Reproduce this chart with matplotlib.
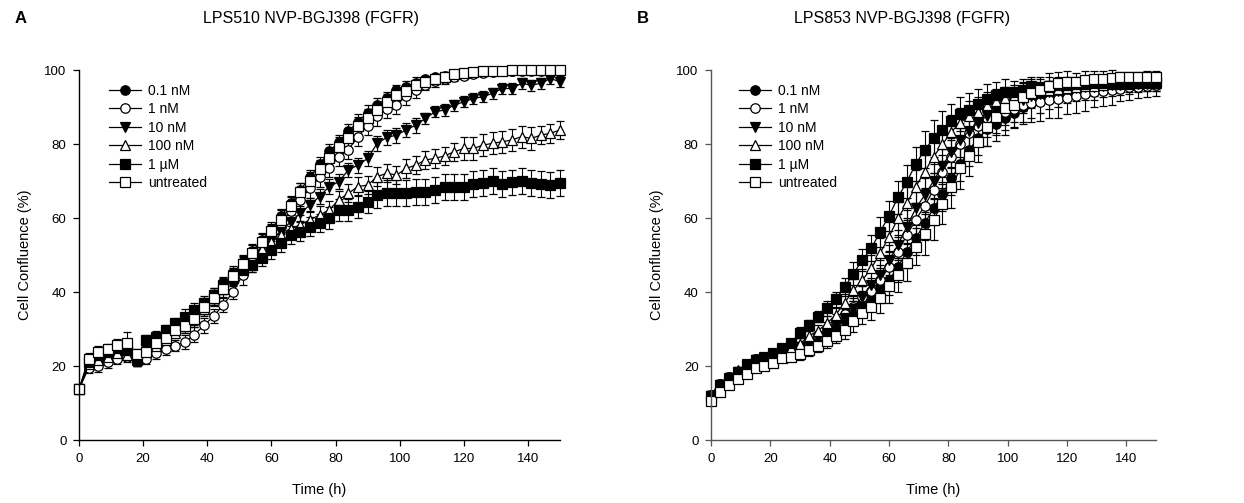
import numpy as np
import matplotlib
matplotlib.use("Agg")
import matplotlib.pyplot as plt

plt.rcParams["font.family"] = ["Liberation Sans", "DejaVu Sans"]

hours = [0, 3, 6, 9, 12, 15, 18, 21, 24, 27, 30, 33, 36, 39, 42, 45, 48, 51, 54, 57,
         60, 63, 66, 69, 72, 75, 78, 81, 84, 87, 90, 93, 96, 99, 102, 105, 108, 111,
         114, 117, 120, 123, 126, 129, 132, 135, 138, 141, 144, 147, 150]

labels = ["0.1 nM", "1 nM", "10 nM", "100 nM", "1 µM", "untreated"]

# panel A - LPS510
a_01 = [13.7, 20.5, 21.5, 22.5, 23.5, 23.5, 21.5, 25, 26.5, 28.5, 30.5, 32, 34, 36.5, 39, 42, 45, 48, 51, 54,
        57, 60.5, 64, 67.5, 71, 74.5, 78, 80.5, 83.5, 86, 88.5, 90.5, 92.5, 94.5, 95.5, 96.5, 97.5, 98,
        98.5, 99, 99.2, 99.5, 99.6, 99.7, 99.8, 99.8, 99.9, 99.9, 99.9, 100, 100]
a_1 = [13.7, 19.5, 20, 21, 22, 22.5, 21.5, 22, 23.5, 24.5, 25.5, 26.5, 28.5, 31, 33.5, 36.5, 40, 44.5, 48, 52,
       55.5, 58.5, 62, 65, 68, 71, 73.5, 76.5, 78.5, 82, 85, 87.5, 89.5, 90.5, 93, 94.5, 96, 97,
       97.5, 98, 98.5, 99, 99.3, 99.5, 99.6, 99.7, 99.8, 99.8, 99.8, 99.9, 99.9]
a_10 = [13.7, 20.5, 21.5, 22.5, 23.5, 23, 21.5, 24.5, 26, 27.5, 29.5, 31.5, 33.5, 36, 38.5, 41.5, 44.5, 47.5, 50, 52,
        54, 56.3, 59, 61.3, 63.5, 65.8, 68.5, 69.8, 73, 74.3, 76.1, 80.2, 81.8, 82.4, 83.8, 85.1, 86.9, 88.7,
        89.2, 90.5, 91.4, 92.3, 92.8, 93.7, 95, 95, 96.4, 95.9, 96.4, 97.7, 96.8]
a_100 = [13.7, 20.5, 21.5, 22.5, 23.5, 23, 21.5, 24, 25.5, 27, 29, 31, 33, 35.5, 38.5, 41.5, 44.5, 47, 49.5, 51.5,
         53.5, 55.5, 57, 58.2, 59.5, 60.8, 62.2, 64.9, 66.7, 68.5, 68.9, 71.2, 72.1, 71.6, 73.4, 74.3, 75.7, 76.1,
         76.8, 77.9, 78.8, 78.8, 79.7, 80.2, 80.6, 81.1, 82, 81.5, 82.4, 82.9, 83.8]
a_1u = [13.7, 21.2, 23, 23.9, 24.8, 24.3, 22, 27, 27.9, 29.7, 31.5, 33.3, 35.1, 36.9, 39.2, 41.9, 43.7, 45.9, 47.3, 49.1,
        51.4, 53.3, 55.4, 56.3, 57.7, 58.6, 59.9, 62.2, 62.2, 63.1, 64.4, 66.2, 66.7, 66.7, 66.7, 67.1, 67.1, 67.6,
        68.5, 68.5, 68.5, 69.1, 69.4, 70.1, 69.2, 69.6, 70.1, 69.4, 69.1, 68.9, 69.5]
a_unt = [13.7, 22, 23.9, 24.5, 25.7, 26.3, 23.2, 23.9, 26.3, 27.5, 29.7, 30.8, 32.6, 36, 38.3, 40.7, 44.3, 47.7, 50.6, 53.6,
         56.5, 59.6, 63.2, 66.9, 70, 73.2, 76.1, 79.3, 81.5, 84.9, 86.9, 89.2, 91.4, 93.2, 94.3, 95.9, 96.7, 97.5,
         98.2, 98.8, 99.1, 99.5, 99.7, 99.8, 99.8, 99.9, 99.9, 99.9, 100, 100, 100]

a_01_sd = [0.5, 1.5, 1.5, 1.5, 1.5, 1.5, 1.5, 1.5, 1.5, 1.5, 1.5, 2, 2, 2, 2, 2, 2, 2, 2, 2,
           2, 2, 2, 2, 2, 2, 2, 2, 2, 2, 2, 2, 1.5, 1.5, 1.5, 1.5, 1, 1, 1, 1, 0.8, 0.8,
           0.5, 0.5, 0.5, 0.5, 0.5, 0.5, 0.5, 0.5, 0.5]
a_1_sd = [0.5, 1.5, 1.5, 1.5, 1.5, 1.5, 1.5, 1.5, 1.5, 1.5, 1.5, 2, 2, 2, 2, 2, 2, 2.5, 2.5, 2.5,
          2.5, 2.5, 2.5, 2.5, 2.5, 2.5, 2.5, 2.5, 2.5, 2.5, 2.5, 2.5, 2.5, 2.5, 2.5, 2, 1.5, 1.5, 1.2, 1,
          1, 0.8, 0.8, 0.5, 0.5, 0.5, 0.5, 0.5, 0.5, 0.5, 0.5]
a_10_sd = [0.5, 1.5, 1.5, 1.5, 1.5, 1.5, 1.5, 1.5, 1.5, 1.5, 1.5, 2, 2, 2, 2, 2, 2, 2, 2, 2,
           2, 2, 2, 2, 2, 2, 2, 2, 2, 2, 2, 2, 2, 2, 2, 2, 1.5, 1.5, 1.5, 1.5, 1.5,
           1.5, 1.5, 1.5, 1.5, 1.5, 1.5, 1.5, 1.5, 1.5, 1.5]
a_100_sd = [0.5, 1.5, 1.5, 1.5, 1.5, 1.5, 1.5, 1.5, 1.5, 1.5, 1.5, 2, 2, 2, 2, 2, 2, 2, 2, 2,
            2.5, 2.5, 2.5, 2.5, 2.5, 2.5, 2.5, 2.5, 2.5, 2.5, 2.5, 2.5, 2.5, 2.5, 2.5, 2.5, 2.5, 2.5,
            2.5, 2.5, 3, 3, 3, 3, 3, 3, 3, 3, 2.5, 2.5, 2.5]
a_1u_sd = [0.5, 1.5, 1.5, 1.5, 1.5, 1.5, 1.5, 1.5, 1.5, 1.5, 1.5, 2, 2, 2, 2, 2, 2, 2, 2, 2,
           2.5, 2.5, 2.5, 2.5, 2.5, 2.5, 3, 3, 3, 3, 3, 3.5, 3.5, 3.5, 3.5, 3.5, 3.5, 3.5,
           3.5, 3.5, 3.5, 3.5, 3.5, 3.5, 3.5, 3.5, 3.5, 3.5, 3.5, 3.5, 3.5]
a_unt_sd = [0.5, 1.5, 1.5, 1.5, 1.5, 3, 1.5, 1.5, 1.5, 1.5, 1.5, 2, 2, 2, 2, 2, 2, 2, 2, 2,
            2, 2.5, 2.5, 2.5, 2.5, 2.5, 2.5, 2.5, 2.5, 2.5, 2.5, 2, 2, 2, 1.5, 1.5, 1.5, 1, 1, 1,
            0.8, 0.8, 0.5, 0.5, 0.5, 0.5, 0.5, 0.5, 0.5, 0.5, 0.5]

# panel B - LPS853
b_01 = [12.3, 15.2, 17, 18.5, 20.5, 22, 22.5, 23, 24, 24.5, 25, 26, 27.5, 28.8, 30.2, 32.5, 34.7, 36.5, 38.3, 41,
        43.2, 46.8, 50.9, 54.5, 58.6, 62.6, 66.5, 70.7, 74.5, 78.5, 81.5, 84, 85.4, 86.9, 88.3, 89.9, 91, 92,
        93, 93.5, 94, 94.5, 94.8, 95, 95.3, 95.5, 95.7, 95.9, 96, 96.2, 96.4]
b_1 = [12.3, 15.2, 17, 18.5, 20.5, 22, 22, 23, 24, 24.5, 25, 26, 28, 30, 32, 34, 36, 38.6, 40.4, 43.2,
       46.8, 50.9, 55.4, 59.5, 63.3, 67.6, 72.5, 76.6, 79.9, 82.9, 85, 87, 88, 88.7, 89.5, 90.5, 91, 91.3,
       92, 92.1, 92.5, 93, 93.5, 94, 94.3, 94.5, 95, 95.3, 95.5, 95.8, 96]
b_10 = [12, 15, 16.8, 18.5, 20.5, 21.5, 22.5, 23, 24, 24.5, 25, 26, 27.5, 29, 31, 33, 35.5, 38.7, 41.9, 44.6,
        48.6, 52.7, 57.7, 62.6, 66.2, 70, 74.1, 77.9, 81.1, 83.6, 85.8, 87.6, 88.9, 90.3, 91, 92, 93, 93.5,
        94, 94.4, 94.8, 95.1, 95.3, 95.5, 95.7, 95.9, 96, 96.1, 96.2, 96.3, 96.4]
b_100 = [12.3, 15.2, 17, 18.8, 20.5, 22, 22.5, 23.5, 24.5, 25, 26, 28.1, 29.5, 31.5, 33.8, 37.1, 40.5, 43.2, 46.4, 50.5,
         55, 59.9, 64, 68.5, 72.5, 76.6, 79.9, 83.3, 85.8, 87.5, 88.7, 90.5, 91.5, 92.5, 93, 93.5, 94, 94.3,
         94.6, 95, 95.2, 95.4, 95.6, 95.8, 96, 96.1, 96.2, 96.3, 96.4, 96.5, 96.5]
b_1u = [12, 14.8, 16.5, 18.3, 20.2, 21.5, 22.3, 23.5, 25, 26.3, 29, 31, 33.3, 35.6, 38, 41.3, 45, 48.6, 51.8, 56.3,
        60.6, 65.6, 69.8, 74.6, 78.4, 81.5, 83.8, 86.2, 88.1, 89.2, 90.8, 92.3, 93.2, 94, 94, 94.5, 95.7, 95,
        95.5, 96, 96, 96.2, 96.3, 96.4, 96.4, 96.5, 96.5, 96.6, 96.6, 96.7, 96.7]
b_unt = [10.6, 13.1, 14.9, 16.4, 17.8, 19.4, 20, 20.9, 22.1, 22.5, 23.2, 24.3, 25.4, 26.8, 28.1, 29.7, 32.2, 34.4, 35.9, 38.3,
         41.6, 44.6, 47.9, 52.3, 55.6, 59.6, 63.8, 68.3, 73.4, 76.8, 80.6, 84.5, 87.4, 89.6, 90.5, 92.8, 93.7, 94.6,
         95.8, 96.4, 96.7, 96.8, 97.3, 97.6, 97.7, 97.9, 98, 98, 98, 98.1, 98.1]

b_01_sd = [1, 1, 1, 1, 1, 1, 1, 1, 1, 1, 1.5, 1.5, 1.5, 2, 2, 2.5, 3, 3, 3.5, 4,
           4, 4, 4.5, 4.5, 4.5, 4.5, 4.5, 4.5, 4.5, 4.5, 4.5, 4.5, 4.5, 4.5, 4, 4, 4, 3.5,
           3.5, 3.5, 3, 3, 3, 3, 2.5, 2.5, 2.5, 2.5, 2, 2, 2]
b_1_sd = [1, 1, 1, 1, 1, 1, 1, 1, 1, 1, 1.5, 1.5, 1.5, 2, 2, 2.5, 3, 3, 3.5, 4,
          4, 4, 4.5, 4.5, 4.5, 4.5, 4.5, 4.5, 4.5, 4.5, 5, 5, 5, 5, 5, 5, 5, 5,
          5, 5, 4.5, 4.5, 4.5, 4, 4, 4, 3.5, 3.5, 3, 3, 3]
b_10_sd = [1, 1, 1, 1, 1, 1, 1, 1, 1, 1, 1.5, 1.5, 1.5, 2, 2, 2.5, 3, 3, 3.5, 4,
           4, 4, 4.5, 4.5, 4.5, 4.5, 4.5, 4.5, 4.5, 4.5, 4.5, 4, 4, 4, 3.5, 3.5, 3, 3,
           3, 3, 2.5, 2.5, 2.5, 2.5, 2, 2, 2, 2, 2, 2, 2]
b_100_sd = [1, 1, 1, 1, 1, 1, 1, 1, 1, 1, 1.5, 1.5, 1.5, 2, 2, 2.5, 3, 3, 3.5, 4,
            4, 4.5, 4.5, 4.5, 4.5, 4.5, 4.5, 4.5, 4, 4, 4, 3.5, 3.5, 3, 3, 3, 2.5, 2.5,
            2.5, 2.5, 2, 2, 2, 2, 2, 1.5, 1.5, 1.5, 1.5, 1.5, 1.5]
b_1u_sd = [1, 1, 1, 1, 1, 1, 1, 1, 1, 1, 1.5, 1.5, 1.5, 2, 2, 2.5, 3, 3, 3.5, 4,
           4, 4.5, 4.5, 4.5, 5, 5, 5, 4.5, 4.5, 4.5, 4, 4, 3.5, 3.5, 3, 3, 2.5, 2.5,
           2.5, 2, 2, 2, 2, 1.5, 1.5, 1.5, 1.5, 1.5, 1.5, 1.5, 1.5]
b_unt_sd = [1, 1, 1, 1, 1, 1, 1, 1, 1, 1, 1.5, 1.5, 1.5, 2, 2, 2.5, 3, 3, 3.5, 4,
            4.5, 4.5, 5, 5, 5.5, 5.5, 5.5, 5.5, 5.5, 5.5, 5.5, 5, 5, 4.5, 4.5, 4, 4, 3.5,
            3.5, 3, 3, 2.5, 2.5, 2, 2, 2, 1.5, 1.5, 1.5, 1.5, 1.5]

markers = ["o", "o", "v", "^", "s", "s"]
faces = ["black", "white", "black", "white", "black", "white"]


def draw_panel(ax, means, sds, spine_col):
    for m, s, lab, mk, fc in zip(means, sds, labels, markers, faces):
        ax.errorbar(hours, m, yerr=s, color="black", lw=0.9, elinewidth=0.8,
                    capsize=3.2, capthick=0.8, marker=mk, markersize=6.8,
                    markerfacecolor=fc, markeredgecolor="black", markeredgewidth=0.9,
                    label=lab, clip_on=False)
    ax.set_xlim(0, 150)
    ax.set_ylim(0, 100)
    ax.set_xticks([0, 20, 40, 60, 80, 100, 120, 140])
    ax.set_yticks([0, 20, 40, 60, 80, 100])
    for sp in ["top", "right"]:
        ax.spines[sp].set_visible(False)
    for sp in ["left", "bottom"]:
        ax.spines[sp].set_color(spine_col)
        ax.spines[sp].set_linewidth(1.0)
    ax.tick_params(direction="out", length=4, width=0.9, color=spine_col,
                   labelsize=9.5, pad=5)
    ax.set_xlabel("Time (h)", fontsize=10.5, labelpad=13)
    ax.set_ylabel("Cell Confluence (%)", fontsize=10.5, labelpad=9)
    handles, labs = ax.get_legend_handles_labels()
    handles = [h[0] for h in handles]
    ax.legend(handles, labs, loc="upper left", bbox_to_anchor=(0.045, 0.985),
              frameon=False, fontsize=10, handlelength=2.3, handletextpad=0.5,
              labelspacing=0.32, borderaxespad=0.2)


fig = plt.figure(figsize=(12.44, 5.03), dpi=100)
ax1 = fig.add_axes([0.0635, 0.1252, 0.3867, 0.7356])
ax2 = fig.add_axes([0.5716, 0.1252, 0.3577, 0.7356])

draw_panel(ax1, [a_01, a_1, a_10, a_100, a_1u, a_unt],
           [a_01_sd, a_1_sd, a_10_sd, a_100_sd, a_1u_sd, a_unt_sd], "black")
draw_panel(ax2, [b_01, b_1, b_10, b_100, b_1u, b_unt],
           [b_01_sd, b_1_sd, b_10_sd, b_100_sd, b_1u_sd, b_unt_sd], "#555555")

fig.text(0.012, 0.964, "A", fontsize=12, fontweight="bold", va="center")
fig.text(0.512, 0.964, "B", fontsize=12, fontweight="bold", va="center")
fig.text(0.25, 0.964, "LPS510 NVP-BGJ398 (FGFR)", fontsize=11.5, ha="center", va="center")
fig.text(0.725, 0.964, "LPS853 NVP-BGJ398 (FGFR)", fontsize=11.5, ha="center", va="center")

fig.savefig("out.png", dpi=100)
